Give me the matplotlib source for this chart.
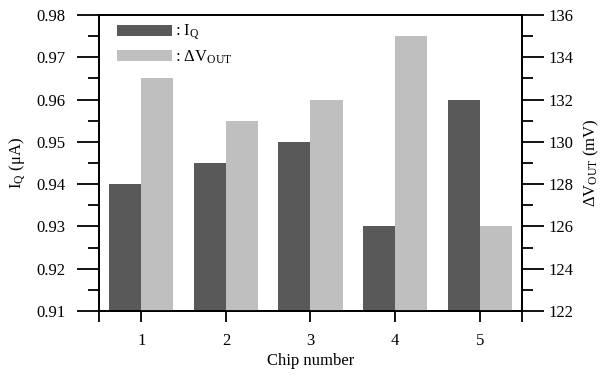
import numpy as np
import matplotlib
matplotlib.use('Agg')
import matplotlib.pyplot as plt

plt.rcParams['font.family'] = ['Liberation Serif', 'DejaVu Serif']
plt.rcParams['mathtext.fontset'] = 'custom'
plt.rcParams['mathtext.rm'] = 'Liberation Serif'
plt.rcParams['mathtext.it'] = 'Liberation Serif:italic'
plt.rcParams['font.size'] = 12

# data
chips = [1, 2, 3, 4, 5]
iq = [0.940, 0.945, 0.950, 0.930, 0.960]          # uA
dvout = [133, 131, 132, 135, 126]                 # mV

dark = '#595959'
light = '#bfbfbf'
w = 0.38

fig = plt.figure(figsize=(6.05, 3.79), dpi=100)
ax = fig.add_axes([0.1636, 0.1794, 0.6992, 0.781])
ax2 = ax.twinx()

x = np.array(chips)
b1 = ax.bar(x - w / 2, [v - 0.91 for v in iq], w, bottom=0.91, color=dark, label=r': I$_\mathrm{Q}$')
b2 = ax2.bar(x + w / 2, [v - 122 for v in dvout], w, bottom=122, color=light, label=r': $\Delta$V$_\mathrm{OUT}$')

ax.set_xlim(0.5, 5.5)
ax.set_ylim(0.91, 0.98)
ax2.set_ylim(122, 136)

ax.set_xticks(chips)
ax.set_xticks([0.5, 5.5], minor=True)
ax.set_yticks(np.arange(0.91, 0.9801, 0.01))
ax.set_yticks(np.arange(0.915, 0.98, 0.01), minor=True)
ax.yaxis.set_major_formatter(matplotlib.ticker.FormatStrFormatter('%.2f'))
ax2.set_yticks(np.arange(122, 137, 2))
ax2.set_yticks(np.arange(123, 136, 2), minor=True)

for a in (ax, ax2):
    for s in a.spines.values():
        s.set_linewidth(1.3)
ax.tick_params(axis='y', which='major', direction='out', length=16, width=1.3, pad=8)
ax.tick_params(axis='y', which='minor', direction='out', length=8, width=1.3)
ax.tick_params(axis='x', which='both', direction='out', length=8, width=1.3, pad=8)
ax2.tick_params(axis='y', which='major', direction='out', length=16, width=1.3, pad=3)
ax2.tick_params(axis='y', which='minor', direction='out', length=8, width=1.3)

ax.set_xlabel('Chip number', labelpad=3)
ax.set_ylabel(r'I$_\mathrm{Q}$ ($\mathrm{\mu}$A)', labelpad=6)
ax2.set_ylabel(r'$\Delta$V$_\mathrm{OUT}$ (mV)', labelpad=6)

ax2.legend(handles=[b1, b2], loc='upper left', bbox_to_anchor=(0.015, 1.012),
           frameon=False, handlelength=3.3, handleheight=0.65, handletextpad=0.2,
           labelspacing=0.35, borderpad=0.2, fontsize=12)

fig.savefig('out.png', dpi=100, facecolor='white')
